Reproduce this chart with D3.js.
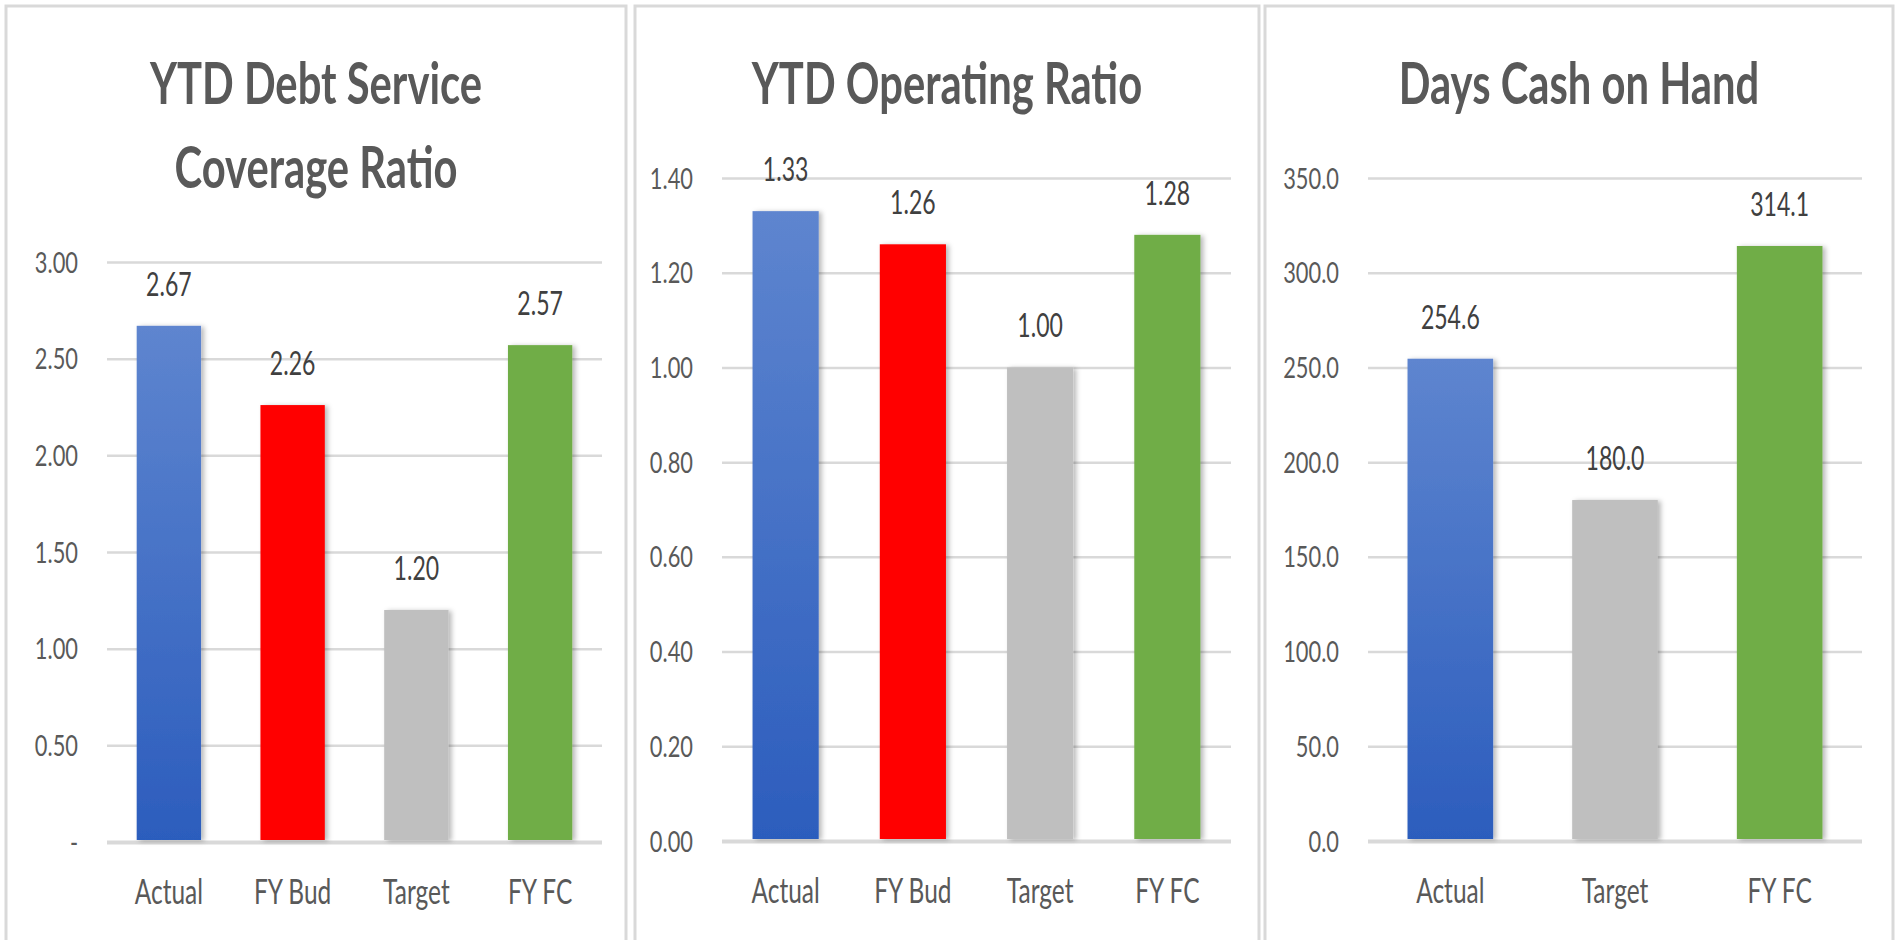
<!DOCTYPE html>
<html>
<head>
<meta charset="utf-8">
<script src="https://cdn.jsdelivr.net/npm/d3@7"></script>
<style>
  html, body { margin: 0; padding: 0; background: #fff; }
  svg { display: block; }
  text { font-family: Lato, "Open Sans", sans-serif; fill: #595959; }
</style>
</head>
<body>
<div id="chart"></div>
<script>
// chart values
var categories1 = ["Actual", "FY Bud", "Target", "FY FC"];
var values1 = [2.67, 2.26, 1.20, 2.57];
var ticks1 = [0, 0.5, 1, 1.5, 2, 2.5, 3];
var tickLabels1 = ["-", "0.50", "1.00", "1.50", "2.00", "2.50", "3.00"];
var valueLabels1 = ["2.67", "2.26", "1.20", "2.57"];

var categories2 = ["Actual", "FY Bud", "Target", "FY FC"];
var values2 = [1.33, 1.26, 1.00, 1.28];
var ticks2 = [0, 0.2, 0.4, 0.6, 0.8, 1.0, 1.2, 1.4];
var tickLabels2 = ["0.00", "0.20", "0.40", "0.60", "0.80", "1.00", "1.20", "1.40"];
var valueLabels2 = ["1.33", "1.26", "1.00", "1.28"];

var categories3 = ["Actual", "Target", "FY FC"];
var values3 = [254.6, 180.0, 314.1];
var ticks3 = [0, 50, 100, 150, 200, 250, 300, 350];
var tickLabels3 = ["0.0", "50.0", "100.0", "150.0", "200.0", "250.0", "300.0", "350.0"];
var valueLabels3 = ["254.6", "180.0", "314.1"];

var titles1 = ["YTD Debt Service", "Coverage Ratio"];
var titles2 = ["YTD Operating Ratio"];
var titles3 = ["Days Cash on Hand"];

// layout (pixels)
var W = 1902, H = 940;
var panels = [
  { x: 6, w: 620, left: 107, right: 602, top: 262, bottom: 842, cats: categories1, vals: values1, ticks: ticks1, tl: tickLabels1, vl: valueLabels1, titles: titles1 },
  { x: 635, w: 624, left: 722, right: 1231, top: 178, bottom: 841, cats: categories2, vals: values2, ticks: ticks2, tl: tickLabels2, vl: valueLabels2, titles: titles2 },
  { x: 1265, w: 628, left: 1368, right: 1862, top: 178, bottom: 841, cats: categories3, vals: values3, ticks: ticks3, tl: tickLabels3, vl: valueLabels3, titles: titles3 }
];

// the picture's text is narrow and tall (Calibri-like), so squeeze it
var tickSqueeze = 0.78;
var labelSqueeze = 0.72;
var titleSqueeze = 0.72;

var svg = d3.select("#chart").append("svg")
  .attr("width", W)
  .attr("height", H);

var defs = svg.append("defs");
var grad = defs.append("linearGradient")
  .attr("id", "blueGrad")
  .attr("x1", 0).attr("y1", 0).attr("x2", 0).attr("y2", 1);
grad.append("stop").attr("offset", "0%").attr("stop-color", "#5e85cf");
grad.append("stop").attr("offset", "100%").attr("stop-color", "#2c5dbd");

var shadow = defs.append("filter")
  .attr("id", "shadow")
  .attr("x", "-20%").attr("y", "-5%").attr("width", "150%").attr("height", "110%");
shadow.append("feDropShadow")
  .attr("dx", 3).attr("dy", 1)
  .attr("stdDeviation", 2.5)
  .attr("flood-color", "#000")
  .attr("flood-opacity", 0.28);

function barColor(cat) {
  if (cat == "Actual") { return "url(#blueGrad)"; }
  if (cat == "FY Bud") { return "#ff0000"; }
  if (cat == "Target") { return "#bfbfbf"; }
  return "#70ad47";
}

panels.forEach(function(p) {
  var g = svg.append("g");

  // panel frame
  g.append("rect")
    .attr("x", p.x).attr("y", 6)
    .attr("width", p.w).attr("height", H)
    .attr("fill", "#fff")
    .attr("stroke", "#d9d9d9")
    .attr("stroke-width", 3);

  var x = d3.scaleBand()
    .domain(p.cats)
    .range([p.left, p.right])
    .paddingInner(0.48)
    .paddingOuter(0.24);

  var y = d3.scaleLinear()
    .domain([0, p.ticks[p.ticks.length - 1]])
    .range([p.bottom, p.top]);

  // title, centred on the panel
  var cx = p.x + p.w / 2;
  g.selectAll(".title")
    .data(p.titles)
    .enter().append("text")
    .attr("class", "title")
    .attr("text-anchor", "middle")
    .attr("transform", function(d, i) { return "translate(" + cx + "," + (104 + i * 84) + ") scale(" + titleSqueeze + ",1)"; })
    .style("font-size", "58px")
    .style("font-weight", "bold")
    .style("fill", "#595959")
    .text(function(d) { return d; });

  // y axis with gridlines
  var yAxis = d3.axisLeft(y)
    .tickValues(p.ticks)
    .tickSize(-(p.right - p.left))
    .tickFormat(function(d, i) { return p.tl[i]; });

  var ax = g.append("g")
    .attr("transform", "translate(" + p.left + ",0)")
    .call(yAxis);
  ax.select(".domain").remove();
  ax.selectAll(".tick line")
    .attr("stroke", "#d9d9d9")
    .attr("stroke-width", function(d) { return d == 0 ? 4 : 2.5; });
  ax.selectAll(".tick text")
    .attr("x", null)
    .attr("dy", "0.36em")
    .attr("transform", "translate(-29,0) scale(" + tickSqueeze + ",1)")
    .style("font-size", "28px")
    .style("font-family", "Lato, sans-serif")
    .style("fill", "#595959");

  // bars
  g.selectAll(".bar")
    .data(p.vals)
    .enter().append("rect")
    .attr("class", "bar")
    .attr("x", function(d, i) { return x(p.cats[i]); })
    .attr("y", function(d) { return y(d); })
    .attr("width", x.bandwidth())
    .attr("height", function(d) { return y(0) - y(d) - 2; })
    .attr("fill", function(d, i) { return barColor(p.cats[i]); })
    .attr("filter", "url(#shadow)");

  // value labels
  g.selectAll(".vlabel")
    .data(p.vals)
    .enter().append("text")
    .attr("class", "vlabel")
    .attr("text-anchor", "middle")
    .attr("transform", function(d, i) {
      return "translate(" + (x(p.cats[i]) + x.bandwidth() / 2) + "," + (y(d) - 30) + ") scale(" + labelSqueeze + ",1)";
    })
    .style("font-size", "32px")
    .style("fill", "#404040")
    .text(function(d, i) { return p.vl[i]; });

  // category labels
  g.selectAll(".clabel")
    .data(p.cats)
    .enter().append("text")
    .attr("class", "clabel")
    .attr("text-anchor", "middle")
    .attr("transform", function(d) {
      return "translate(" + (x(d) + x.bandwidth() / 2) + "," + (p.bottom + 62) + ") scale(" + labelSqueeze + ",1)";
    })
    .style("font-size", "34px")
    .style("fill", "#595959")
    .text(function(d) { return d; });
});
</script>
</body>
</html>
